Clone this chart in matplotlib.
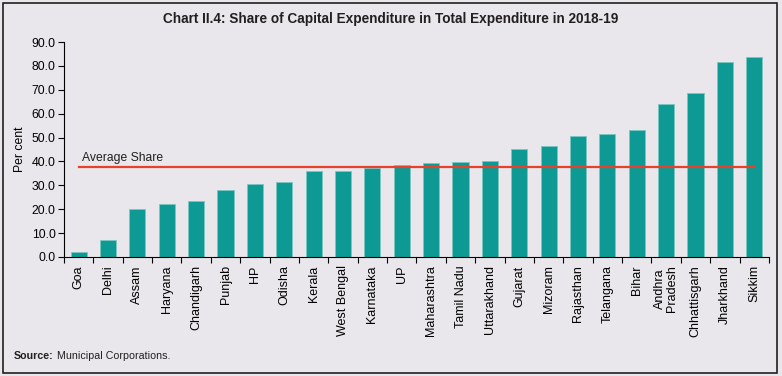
import matplotlib.pyplot as plt
import numpy as np
from matplotlib.patches import Rectangle

plt.rcParams['font.family'] = ['Liberation Sans', 'DejaVu Sans']

# Data
states = ['Goa', 'Delhi', 'Assam', 'Haryana', 'Chandigarh', 'Punjab', 'HP', 'Odisha',
          'Kerala', 'West Bengal', 'Karnataka', 'UP', 'Maharashtra', 'Tamil Nadu',
          'Uttarakhand', 'Gujarat', 'Mizoram', 'Rajasthan', 'Telangana', 'Bihar',
          'Andhra\nPradesh', 'Chhattisgarh', 'Jharkhand', 'Sikkim']
share = [2.1, 7.1, 20.1, 22.4, 23.3, 28.0, 30.4, 31.5, 36.0, 36.0, 37.4, 38.4,
         39.2, 39.6, 40.0, 45.3, 46.6, 50.6, 51.6, 53.0, 64.0, 68.5, 81.7, 83.8]
average_share = 37.8

bg = '#E9E7EC'
fig = plt.figure(figsize=(7.82, 3.76), dpi=100, facecolor=bg)
ax = fig.add_axes([0.0818, 0.3165, 0.9015, 0.5715], facecolor=bg)

x = np.arange(len(states))
ax.bar(x, share, width=0.55, color='#0E9A94', edgecolor='#7CC6C2', linewidth=0.6)
ax.plot([x[0], x[-1]], [average_share, average_share], color='#E8412A', lw=1.6)
ax.text(0.1, average_share + 2.3, 'Average Share', fontsize=8.7, color='#231F20')

ax.set_xlim(-0.5, len(states) - 0.5)
ax.set_ylim(0, 90)
ax.set_yticks(np.arange(0, 91, 10))
ax.set_yticklabels([f'{v:.1f}' for v in np.arange(0, 91, 10)], fontsize=8.8)
ax.set_xticks(x)
ax.set_xticklabels(states, rotation=90, fontsize=9, linespacing=0.95)
ax.set_xticks(np.arange(-0.5, len(states)), minor=True)
ax.tick_params(axis='x', which='major', length=0, pad=6)
ax.tick_params(axis='x', which='minor', length=4, width=0.8)
ax.tick_params(axis='y', length=4, width=0.8, pad=2)
ax.set_ylabel('Per cent', fontsize=8.8, labelpad=4)
for s in ['top', 'right']:
    ax.spines[s].set_visible(False)
for s in ['left', 'bottom']:
    ax.spines[s].set_linewidth(0.8)

fig.text(0.5, 0.94, 'Chart II.4: Share of Capital Expenditure in Total Expenditure in 2018-19',
         ha='center', fontsize=9.8, fontweight='bold', color='#231F20')
fig.text(0.018, 0.045, 'Source:', fontsize=7.7, fontweight='bold', color='#231F20')
fig.text(0.073, 0.045, 'Municipal Corporations.', fontsize=7.7, color='#231F20')

fig.patches.append(Rectangle((0.004, 0.008), 0.99, 0.985, transform=fig.transFigure,
                             fill=False, edgecolor='#231F20', linewidth=1.2))

fig.savefig('out.png', dpi=100, facecolor=bg)
